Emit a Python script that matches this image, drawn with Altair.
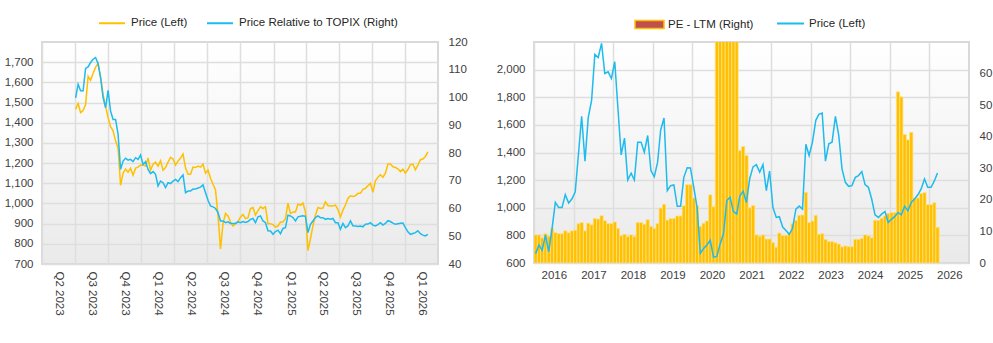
import altair as alt
import pandas as pd

# ---------------- data: left chart (weekly readings, Jul 2023 - Mar 2026) ----------------
left_start = "2023-07-03"
left_end = "2026-03-04"
price_left = [1467, 1495, 1450, 1460, 1490, 1630, 1610, 1645, 1675, 1695, 1625, 1540, 1480, 1425, 1380, 1360,
              1310, 1275, 1090, 1150, 1170, 1155, 1175, 1140, 1175, 1180, 1190, 1190, 1185, 1225, 1165, 1195,
              1205, 1185, 1212, 1165, 1178, 1205, 1228, 1220, 1190, 1210, 1225, 1245, 1175, 1145,
              1145, 1180, 1178, 1185, 1180, 1195, 1150, 1165, 1125, 1095, 1067, 940, 775, 900, 950, 938,
              908, 888, 900, 910, 933, 945, 925, 930, 975, 980, 942, 965, 983, 975, 983, 900,
              900, 895, 883, 888, 908, 908, 925, 1002, 950, 958, 958, 996, 992, 1002, 958, 767,
              825, 890, 942, 980, 975, 977, 1008, 990, 988, 988, 992, 970, 933, 967, 992, 1025,
              1038, 1035, 1038, 1050, 1050, 1070, 1075, 1088, 1100, 1055, 1112, 1130, 1142, 1130, 1150, 1195,
              1195, 1182, 1178, 1172, 1158, 1170, 1150, 1168, 1192, 1195, 1167, 1190, 1217, 1220, 1233, 1255]
rel_topix = [99.9, 104.8, 102.4, 102.4, 110.5, 111.0, 112.6, 113.8, 114.4, 112.2, 107.2, 100.0, 96.3, 102.6, 95.1, 92.1,
             92.1, 86.7, 74.1, 77.1, 78.1, 77.4, 77.7, 76.9, 78.3, 77.7, 79.3, 75.9, 76.9, 74.1, 72.6, 73.3,
             72.3, 68.1, 69.9, 69.3, 67.5, 69.3, 69.0, 69.9, 70.5, 69.7, 71.1, 72.1, 65.7, 66.3,
             66.3, 67.0, 67.0, 67.4, 67.7, 68.5, 65.7, 63.0, 60.9, 60.6, 60.0, 58.5, 55.5, 55.5, 54.9, 55.2,
             54.6, 54.6, 54.6, 55.2, 54.9, 55.3, 55.0, 55.3, 56.1, 56.4, 54.9, 57.0, 57.3, 55.5, 54.9, 52.0,
             51.9, 50.7, 51.7, 52.2, 50.9, 52.8, 53.1, 57.6, 57.3, 56.7, 55.5, 57.0, 57.2, 57.4, 57.2, 51.3,
             54.3, 55.5, 56.7, 57.3, 56.7, 56.7, 56.1, 56.4, 56.1, 56.4, 54.9, 54.9, 52.5, 54.6, 53.1, 53.7,
             55.5, 53.8, 53.7, 53.5, 53.7, 53.4, 54.3, 54.4, 54.9, 54.0, 53.7, 54.2, 54.9, 54.0, 54.6, 55.6,
             55.3, 54.7, 54.3, 54.5, 54.7, 54.8, 53.1, 51.6, 50.7, 51.0, 51.3, 52.0, 50.9, 50.4, 50.1, 50.7]
quarter_ticks = [(2023, 4), (2023, 7), (2023, 10), (2024, 1), (2024, 4), (2024, 7), (2024, 10),
                 (2025, 1), (2025, 4), (2025, 7), (2025, 10), (2026, 1)]
left_y_ticks = [700, 800, 900, 1000, 1100, 1200, 1300, 1400, 1500, 1600, 1700]
rel_ticks = [40, 50, 60, 70, 80, 90, 100, 110, 120]

# ---------------- data: right chart (monthly, Jan 2016 - Mar 2026) ----------------
right_start = "2016-01-01"
price_right = [668, 731, 692, 801, 682, 850, 1039, 1002, 1002, 1095, 1034, 1063,
               1116, 1400, 1662, 1337, 1652, 1778, 2110, 2088, 2190, 1972, 1984, 1936,
               2057, 1700, 1383, 1504, 1201, 1250, 1201, 1475, 1475, 1402, 1523, 1269,
               1225, 1330, 1563, 1650, 1124, 1160, 1165, 1010, 1010, 1220, 1290, 1288,
               1148, 1000, 670, 705, 730, 765, 642, 648, 740, 810, 1052, 1076,
               972, 955, 1085, 1120, 1038, 1212, 1296, 1312, 1258, 1312, 1124, 1266,
               1001, 930, 935, 860, 835, 808, 850, 990, 1012, 990, 1460, 1378,
               1475, 1633, 1676, 1686, 1337, 1463, 1475, 1662, 1524, 1281, 1184, 1155,
               1160, 1220, 1233, 1262, 1167, 1148, 1063, 949, 930, 954, 973, 893,
               918, 937, 966, 949, 1010, 978, 1039, 1063, 1094, 1136, 1208, 1148,
               1148, 1196, 1252]
pe_ltm = [8.9, 8.9, 8.0, 9.3, 8.5, 11.0, 9.6, 9.3, 9.3, 10.2, 9.6, 10.2,
          10.4, 12.5, 12.8, 10.2, 12.6, 12.1, 14.1, 13.9, 15.0, 13.4, 12.5, 12.5,
          13.0, 11.0, 8.6, 9.1, 8.4, 8.9, 8.4, 12.8, 12.8, 12.3, 13.7, 11.6,
          11.0, 12.5, 17.4, 18.6, 13.6, 14.1, 14.1, 14.9, 14.9, 18.1, 24.8, 24.8,
          20.6, 18.1, 11.6, 12.6, 13.3, 21.6, 17.8, 85, 100, 120, 140, 130,
          110, 90, 35.6, 36.9, 34.1, 17.5, 18.2, 8.9, 8.5, 8.9, 7.6, 7.6,
          6.5, 5.0, 9.5, 8.7, 8.7, 9.5, 12.4, 13.5, 15.1, 15.2, 22.4, 12.8,
          13.3, 15.1, 9.1, 9.3, 7.5, 6.8, 6.8, 6.4, 6.0, 5.1, 5.4, 5.2,
          5.2, 7.5, 7.5, 7.8, 8.9, 8.6, 8.0, 13.5, 13.5, 14.2, 14.9, 15.7,
          16.0, 16.0, 54.2, 52.6, 40.7, 39.0, 41.4, 20.6, 20.6, 22.0, 22.3, 18.5,
          18.5, 19.1, 11.3]
year_ticks = [2016, 2017, 2018, 2019, 2020, 2021, 2022, 2023, 2024, 2025, 2026]
right_y_ticks = [600, 800, 1000, 1200, 1400, 1600, 1800, 2000]
pe_ticks = [0, 10, 20, 30, 40, 50, 60]

# ---------------- styling ----------------
GOLD = "#FFC000"
CYAN = "#1DBBEE"
FONT = "Liberation Sans"
LEG_Y = -33

# ---------------- tables ----------------
left_dates = pd.date_range(left_start, left_end, periods=len(price_left))
df_l1 = pd.DataFrame({"date": left_dates, "value": price_left, "series": "Price (Left)"})
df_l2 = pd.DataFrame({"date": left_dates, "value": rel_topix, "series": "Price Relative to TOPIX (Right)"})

m_start = pd.date_range(right_start, periods=len(pe_ltm), freq="MS")
m_end = m_start + pd.offsets.MonthBegin(1)
m_mid = m_start + pd.Timedelta(days=15)
df_bars = pd.DataFrame({"start": m_start, "end": m_end, "pe": pe_ltm})
df_price_r = pd.DataFrame({"mid": m_mid, "price": price_right, "series": "Price (Left)"})
df_legend = pd.DataFrame({"series": pd.Series([], dtype="object")})


def dt(y, m):
    return alt.DateTime(year=y, month=m, date=1)


# ---------------- left chart ----------------
x_left = alt.X(
    "date:T",
    title=None,
    scale=alt.Scale(domain=[dt(2023, 4), dt(2026, 4)]),
    axis=alt.Axis(
        values=[dt(y, m) for (y, m) in quarter_ticks],
        labelExpr="'Q' + (floor(month(datum.value) / 3) + 1) + ' ' + year(datum.value)",
        labelAngle=90, labelAlign="left", labelBaseline="middle",
        labelOffset=16.5, labelPadding=7, grid=True,
        labelFlush=False, labelOverlap=False,
    ),
)
color_left = alt.Color(
    "series:N",
    scale=alt.Scale(domain=["Price (Left)", "Price Relative to TOPIX (Right)"], range=[GOLD, CYAN]),
    legend=alt.Legend(
        title=None, orient="none", legendX=56, legendY=LEG_Y, direction="horizontal",
        symbolType="stroke", symbolSize=676, symbolStrokeWidth=2,
        columnPadding=15, labelOffset=5, padding=0,
    ),
)

line_price_l = alt.Chart(df_l1).mark_line(strokeWidth=1.5, clip=True).encode(
    x=x_left,
    y=alt.Y("value:Q", title=None,
            scale=alt.Scale(domain=[700, 1800], nice=False, zero=False),
            axis=alt.Axis(orient="left", values=left_y_ticks, format=",.0f", grid=True, labelPadding=9)),
    color=color_left,
)
line_rel = alt.Chart(df_l2).mark_line(strokeWidth=1.5, clip=True).encode(
    x=x_left,
    y=alt.Y("value:Q", title=None,
            scale=alt.Scale(domain=[40, 120], nice=False, zero=False),
            axis=alt.Axis(orient="right", values=rel_ticks, format=".0f", grid=False, labelPadding=10)),
    color=color_left,
)
left = alt.layer(line_price_l, line_rel).resolve_scale(y="independent").properties(width=396, height=222)

# ---------------- right chart ----------------
x_right_axis = alt.Axis(
    values=[dt(y, 1) for y in year_ticks], format="%Y", labelAngle=0,
    labelOffset=19.8, labelPadding=6, grid=True, labelFlush=False, labelOverlap=False,
)
x_domain_r = alt.Scale(domain=[dt(2016, 1), dt(2027, 1)])

legend_pe = alt.Chart(df_legend).mark_bar(stroke=GOLD, strokeWidth=1.5).encode(
    fill=alt.Fill(
        "series:N",
        scale=alt.Scale(domain=["PE - LTM (Right)"], range=["#C0504D"]),
        legend=alt.Legend(
            title=None, orient="none", legendX=100, legendY=LEG_Y,
            symbolType="M-1,-0.28L1,-0.28L1,0.28L-1,0.28Z", symbolSize=841,
            symbolStrokeColor=GOLD, symbolStrokeWidth=1.5, labelOffset=3, padding=0,
        ),
    )
)
bars = alt.Chart(df_bars).mark_bar(fill=GOLD, stroke="#FFE38A", strokeWidth=0.7, clip=True).encode(
    x=alt.X("start:T", title=None, scale=x_domain_r, axis=x_right_axis),
    x2="end:T",
    y=alt.Y("pe:Q", title=None, scale=alt.Scale(domain=[0, 70], nice=False),
            axis=alt.Axis(orient="right", values=pe_ticks, format=".0f", grid=False, labelPadding=10)),
    y2=alt.datum(0),
)
line_price_r = alt.Chart(df_price_r).mark_line(strokeWidth=1.5, clip=True).encode(
    x=alt.X("mid:T", title=None, scale=x_domain_r, axis=x_right_axis),
    y=alt.Y("price:Q", title=None, scale=alt.Scale(domain=[600, 2200], nice=False, zero=False),
            axis=alt.Axis(orient="left", values=right_y_ticks, format=",.0f", grid=True, labelPadding=9)),
    color=alt.Color(
        "series:N",
        scale=alt.Scale(domain=["Price (Left)"], range=[CYAN]),
        legend=alt.Legend(
            title=None, orient="none", legendX=242, legendY=LEG_Y,
            symbolType="stroke", symbolSize=729, symbolStrokeWidth=2, labelOffset=4, padding=0,
        ),
    ),
)
right = alt.layer(legend_pe, bars, line_price_r).resolve_scale(y="independent").properties(width=435, height=221)

# ---------------- compose ----------------
gradient = ("{gradient: 'linear', x1: 0, y1: 0, x2: 0, y2: 1, "
            "stops: [{offset: 0, color: '#ffffff'}, {offset: 1, color: '#eaeaea'}]}")

chart = (
    alt.hconcat(left, right, spacing=96, bounds="flush")
    .resolve_scale(color="independent", fill="independent")
    .properties(padding={"left": 3, "top": 8, "right": 0, "bottom": 0}, background="white")
    .configure_view(fill=alt.ExprRef(expr=gradient), stroke="#d9d9d9", strokeWidth=2)
    .configure_axis(
        labelFont=FONT, labelFontSize=11.5, labelColor="#404040",
        domain=False, ticks=False, gridColor="#dedede", gridWidth=1.5,
    )
    .configure_legend(labelFont=FONT, labelFontSize=11.5, labelColor="#262626")
)

chart.save("out.html", embed_options={"renderer": "svg", "actions": False})
